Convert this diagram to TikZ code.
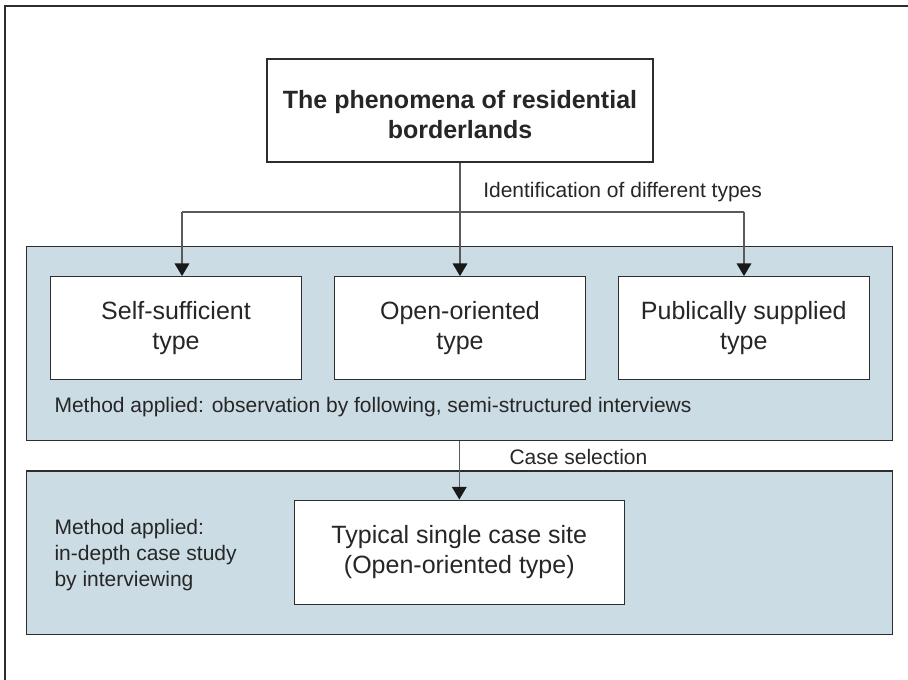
\documentclass[tikz,border=0pt]{standalone}
\usepackage{fontspec}
\setmainfont{Liberation Sans}
\usetikzlibrary{arrows.meta}
\definecolor{panelfill}{RGB}{204,220,228}
\definecolor{linegray}{RGB}{45,45,45}
\definecolor{conngray}{RGB}{90,90,90}
\newcommand\bigtxt{\fontsize{18.75pt}{22.5pt}\selectfont}
\newcommand\smalltxt{\fontsize{15.75pt}{19.5pt}\selectfont}
\begin{document}
\begin{tikzpicture}[x=0.75pt,y=-0.75pt,
  panel/.style={draw=linegray, fill=panelfill, line width=0.8pt, inner sep=0pt, minimum width=649.5pt},
  box/.style={draw=linegray, fill=white, line width=0.8pt, inner sep=0pt, align=center, font=\bigtxt, text=black!85},
  conn/.style={draw=conngray, line width=0.9pt},
  arr/.style={-{Triangle[length=9.5pt,width=11pt,color=black!90]}},
  lbl/.style={inner sep=0pt, font=\smalltxt, text=black!85, anchor=base west}]
\useasboundingbox (0,0) rectangle (908,680);
% outer frame
\draw[line width=1.4pt, linegray] (5,680) -- (5,6) -- (908,6);
% panels
\node[panel, minimum height=145.5pt] (p1) at (459.7,343.7) {};
\node[panel, minimum height=122.5pt] (p2) at (459.7,552.7) {};
% top box
\node[box, minimum width=289.5pt, minimum height=77.25pt] (top) at (460,110.5) {};
\node[inner sep=0pt, align=center, font=\bigtxt\bfseries, text=black!85] (toptxt) at (460,114.5) {The phenomena of residential\\borderlands};
% type boxes
\node[box, minimum width=188.6pt, minimum height=77.5pt] (b1) at (176,328.3) {Self-sufficient\\type};
\node[box, minimum width=188.6pt, minimum height=77.5pt] (b2) at (460,328.3) {Open-oriented\\type};
\node[box, minimum width=188.6pt, minimum height=77.5pt] (b3) at (743.8,328.3) {Publically supplied\\type};
% case box
\node[box, minimum width=247.5pt, minimum height=78.2pt] (typ) at (459.3,552.2) {Typical single case site\\(Open-oriented type)};
% labels
\node[lbl] (lid) at (483,198) {Identification of different types};
\node[lbl] (lmeth1) at (54.3,413) {Method applied: observation by following, semi-structured interviews};
\node[lbl] (lcase) at (509.3,465) {Case selection};
\node[lbl, align=left] (lmeth2) at (54.3,587) {Method applied:\\in-depth case study\\by interviewing};
% connectors
\coordinate (jc) at (460,212);
\coordinate (jl) at (182,212);
\coordinate (jr) at (744,212);
\draw[conn] (top.south) -- (jc);
\draw[conn] (jl) -- (jr);
\draw[conn,arr] (jl) -- (jl |- b1.north);
\draw[conn,arr] (jc) -- (b2.north);
\draw[conn,arr] (jr) -- (jr |- b3.north);
\draw[conn,arr] (typ.north |- p1.south) -- (typ.north);
\end{tikzpicture}
\end{document}
